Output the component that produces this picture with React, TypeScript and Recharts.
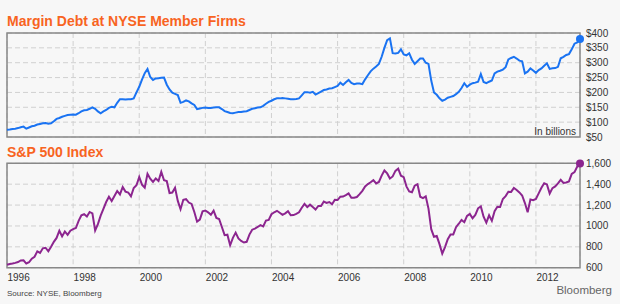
import React from "react";
import { LineChart, Line, XAxis, YAxis, CartesianGrid, ReferenceArea } from "recharts";

// Month-end values, Dec 1995 .. Apr 2013
const startYear = 1996; // first point (Dec 1995 month-end) sits at 1996.0
const marginDebt = [
  74,
  75, 77, 78, 80, 83, 85, 78, 82, 86, 88, 92, 94,
  96, 97, 95, 96, 103, 111, 114, 118, 121, 124, 125, 126,
  125, 130, 136, 140, 141, 145, 150, 145, 136, 130, 136, 141,
  148, 152, 150, 165, 177, 177, 176, 177, 177, 180, 200, 219,
  243, 265, 279, 252, 242, 247, 248, 249, 250, 226, 210, 199,
  195, 191, 165, 168, 173, 170, 163, 158, 144, 146, 148, 149,
  148, 148, 149, 150, 150, 144, 137, 134, 131, 130, 132, 134,
  134, 136, 137, 141, 145, 147, 149, 150, 155, 162, 168, 172,
  177, 180, 180, 181, 180, 179, 177, 177, 178, 180, 190, 201,
  201, 199, 202, 193, 198, 203, 208, 210, 213, 214, 218, 222,
  233, 225, 234, 242, 232, 228, 230, 230, 228, 244, 258, 271,
  280, 287, 296, 320, 350, 376, 382, 332, 331, 333, 345, 328,
  325, 332, 310, 296, 305, 314, 314, 300, 296, 240, 200, 192,
  180, 172, 176, 182, 185, 188, 194, 202, 215, 231, 219, 226,
  231, 233, 236, 262, 235, 231, 236, 240, 264, 270, 273, 277,
  285, 311, 316, 320, 314, 307, 305, 264, 270, 281, 274, 266,
  275, 281, 290, 298, 279, 281, 282, 286, 315, 320, 326, 329,
  345, 364, 368, 380,
];
const sp500 = [
  628,
  636, 640, 646, 654, 669, 671, 640, 652, 687, 705, 757, 741,
  786, 791, 757, 801, 848, 885, 954, 900, 947, 915, 955, 970,
  980, 1049, 1102, 1112, 1091, 1134, 1121, 957, 1017, 1099, 1164, 1229,
  1280, 1238, 1286, 1335, 1302, 1373, 1329, 1320, 1283, 1363, 1389, 1469,
  1395, 1366, 1499, 1452, 1421, 1455, 1431, 1518, 1437, 1429, 1315, 1320,
  1366, 1240, 1160, 1250, 1256, 1224, 1211, 1134, 1041, 1060, 1140, 1148,
  1130, 1107, 1147, 1077, 1067, 990, 912, 916, 815, 886, 936, 880,
  856, 841, 848, 917, 964, 975, 990, 1008, 996, 1051, 1058, 1112,
  1131, 1145, 1126, 1107, 1121, 1141, 1102, 1104, 1115, 1130, 1174, 1212,
  1181, 1204, 1181, 1157, 1192, 1191, 1234, 1220, 1229, 1207, 1250, 1248,
  1280, 1281, 1295, 1311, 1270, 1270, 1277, 1304, 1336, 1378, 1401, 1418,
  1438, 1407, 1421, 1482, 1531, 1503, 1455, 1474, 1527, 1549, 1481, 1468,
  1379, 1331, 1323, 1386, 1400, 1280, 1267, 1283, 1166, 969, 896, 903,
  826, 735, 798, 873, 919, 919, 988, 1021, 1057, 1036, 1096, 1115,
  1074, 1105, 1169, 1187, 1089, 1031, 1102, 1049, 1141, 1183, 1181, 1258,
  1286, 1327, 1326, 1364, 1345, 1321, 1292, 1219, 1131, 1253, 1247, 1258,
  1312, 1366, 1409, 1398, 1310, 1362, 1379, 1407, 1441, 1412, 1416, 1426,
  1498, 1515, 1569, 1598,
];

const yearTicks = [1996, 1998, 2000, 2002, 2004, 2006, 2008, 2010, 2012];
const gridYears = [1998, 2000, 2002, 2004, 2006, 2008, 2010, 2012];
const marginTicks = [50, 100, 150, 200, 250, 300, 350, 400];
const spTicks = [600, 800, 1000, 1200, 1400, 1600];
const spTickLabels = ["600", "800", "1000", "1,200", "1,400", "1,600"];

const data = marginDebt.map((m, i) => ({ t: startYear + i / 12, margin: m, sp: sp500[i] }));
const lastT = startYear + (marginDebt.length - 1) / 12;
const lastIndex = data.length - 1;

const FONT = "'Liberation Sans', Arial, Helvetica, sans-serif";
const BLUE = "#1a73f2";
const PURPLE = "#8c258f";
const ORANGE = "#f8641f";

const makeDot = (color: string) => (props: any) => {
  const { cx, cy, index } = props;
  if (index !== lastIndex) return <g key={`d${index}`} />;
  return <circle key={`d${index}`} cx={cx} cy={cy} r={4} fill={color} stroke="none" />;
};

const XTick = (props: any) => {
  const { x, y, payload } = props;
  return (
    <text x={x + 0.5} y={y + 13} textAnchor="start" fontSize={10} fill="#333" fontFamily={FONT}>
      {payload.value}
    </text>
  );
};

export default function App() {
  return (
    <div style={{ position: "absolute", left: 0, top: 0, width: 620, height: 304, background: "#f7f7f7", fontFamily: FONT }}>
      <div style={{ position: "absolute", left: 0, top: 140 }}>
        <LineChart width={620} height={164} data={data} margin={{ top: 23.3, right: 0, left: 7, bottom: 0 }}>
          <XAxis
            type="number"
            dataKey="t"
            domain={[startYear, lastT]}
            ticks={yearTicks}
            height={36.3}
            axisLine={false}
            tickLine={false}
            tickSize={0}
            tickMargin={0}
            tick={<XTick />}
            interval={0}
          />
          <YAxis
            orientation="right"
            width={40}
            domain={[600, 1600]}
            ticks={spTicks}
            tickFormatter={(v: number) => spTickLabels[spTicks.indexOf(v)]}
            axisLine={false}
            tickLine={false}
            tickSize={6}
            tickMargin={0}
            tick={{ fontSize: 10, fill: "#333", fontFamily: FONT }}
            interval={0}
          />
          <CartesianGrid stroke="#d0d0d0" strokeDasharray="5 3" />
          <ReferenceArea x1={startYear} x2={lastT} y1={600} y2={1600} fill="none" stroke="#888" strokeWidth={1.5} />
          <Line
            type="linear"
            dataKey="sp"
            stroke={PURPLE}
            strokeWidth={2}
            dot={makeDot(PURPLE)}
            activeDot={false}
            isAnimationActive={false}
          />
        </LineChart>
      </div>
      <div style={{ position: "absolute", left: 0, top: 0 }}>
        <LineChart width={620} height={150} data={data} margin={{ top: 33, right: 0, left: 7, bottom: 13 }}>
          <XAxis type="number" dataKey="t" domain={[startYear, lastT]} ticks={gridYears} hide />
          <YAxis
            orientation="right"
            width={40}
            domain={[50, 400]}
            ticks={marginTicks}
            tickFormatter={(v: number) => `$${v}`}
            axisLine={false}
            tickLine={false}
            tickSize={6}
            tickMargin={0}
            tick={{ fontSize: 10, fill: "#333", fontFamily: FONT }}
            interval={0}
          />
          <CartesianGrid stroke="#d0d0d0" strokeDasharray="5 3" />
          <ReferenceArea x1={startYear} x2={lastT} y1={50} y2={400} fill="none" stroke="#888" strokeWidth={1.5} />
          <Line
            type="linear"
            dataKey="margin"
            stroke={BLUE}
            strokeWidth={2}
            dot={makeDot(BLUE)}
            activeDot={false}
            isAnimationActive={false}
          />
        </LineChart>
      </div>
      <svg width={620} height={304} style={{ position: "absolute", left: 0, top: 0, pointerEvents: "none" }}>
        <text x={7} y={26} fontSize={14} fontWeight="bold" fill={ORANGE} fontFamily={FONT}>
          Margin Debt at NYSE Member Firms
        </text>
        <text x={7} y={156.7} fontSize={14} fontWeight="bold" fill={ORANGE} fontFamily={FONT}>
          S&amp;P 500 Index
        </text>
        <text x={576} y={134.5} textAnchor="end" fontSize={10} fill="#333" fontFamily={FONT}>
          In billions
        </text>
        <text x={7} y={296} fontSize={8} fill="#444" fontFamily={FONT}>
          Source: NYSE, Bloomberg
        </text>
        <text x={612} y={294} textAnchor="end" fontSize={11.5} fill="#666" fontFamily={FONT}>
          Bloomberg
        </text>
      </svg>
    </div>
  );
}
